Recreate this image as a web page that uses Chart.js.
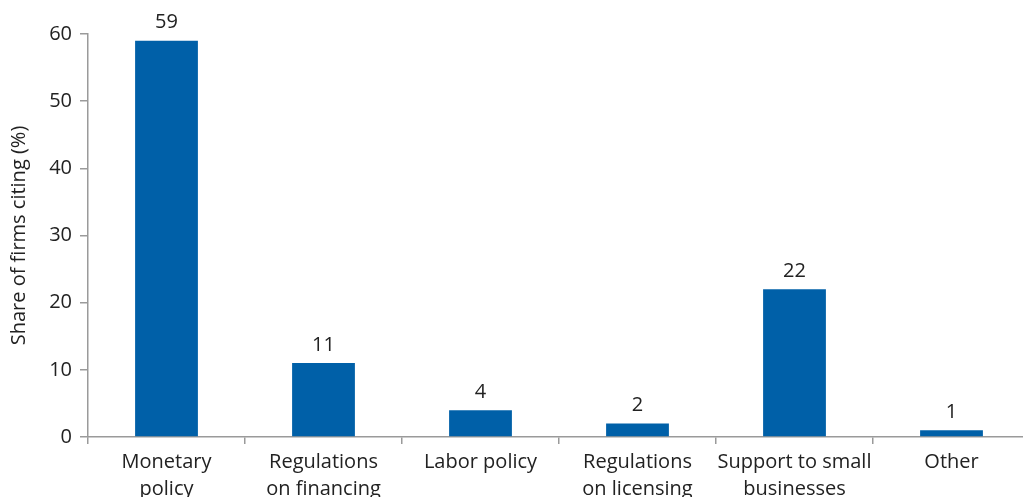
<!DOCTYPE html>
<html lang="en">
<head>
    <meta charset="UTF-8">
    <title>Share of firms citing</title>
    <script src="https://cdn.jsdelivr.net/npm/chart.js"></script>
    <style>
        html, body { margin: 0; padding: 0; overflow: hidden; background: #fff; }
        #wrap { width: 1023px; height: 497px; overflow: hidden; }
    </style>
</head>
<body>
    <div id="wrap">
        <canvas id="myChart" width="1030" height="540"></canvas>
    </div>

    <script>
        const categories = [
            ['Monetary', 'policy'],
            ['Regulations', 'on financing'],
            ['Labor policy'],
            ['Regulations', 'on licensing'],
            ['Support to small', 'businesses'],
            ['Other']
        ];
        const shares = [59, 11, 4, 2, 22, 1];
        const yTicks = [0, 10, 20, 30, 40, 50, 60];

        const barColor = '#0060a8';
        const axisColor = '#9a9a9a';
        const textColor = '#222222';
        const fontFamily = '"Open Sans", "Noto Sans", sans-serif';

        // value labels above the bars
        const valueLabels = {
            id: 'valueLabels',
            afterDatasetsDraw(chart) {
                const ctx = chart.ctx;
                const meta = chart.getDatasetMeta(0);
                ctx.save();
                ctx.font = '20px ' + fontFamily;
                ctx.fillStyle = textColor;
                ctx.textAlign = 'center';
                ctx.textBaseline = 'bottom';
                meta.data.forEach(function (bar, i) {
                    ctx.fillText(String(shares[i]), bar.x, bar.y - 8);
                });
                ctx.restore();
            }
        };

        const ctx = document.getElementById('myChart').getContext('2d');
        new Chart(ctx, {
            type: 'bar',
            data: {
                labels: categories,
                datasets: [{
                    data: shares,
                    backgroundColor: barColor,
                    categoryPercentage: 0.8,
                    barPercentage: 0.5
                }]
            },
            options: {
                responsive: false,
                animation: false,
                layout: { padding: { top: 34, right: 0, left: 0, bottom: 0 } },
                plugins: {
                    legend: { display: false },
                    tooltip: { enabled: false }
                },
                scales: {
                    x: {
                        offset: true,
                        afterFit: function (scale) { scale.height = 103; },
                        border: { display: true, color: axisColor, width: 1.5 },
                        grid: {
                            offset: true,
                            drawOnChartArea: false,
                            drawTicks: true,
                            tickLength: 7,
                            color: axisColor,
                            lineWidth: 1.5
                        },
                        ticks: {
                            color: textColor,
                            padding: 5,
                            maxRotation: 0,
                            autoSkip: false,
                            font: { family: fontFamily, size: 20, lineHeight: 1.35 }
                        }
                    },
                    y: {
                        min: 0,
                        max: 60,
                        afterFit: function (scale) { scale.width = 88; },
                        afterBuildTicks: function (scale) {
                            scale.ticks = yTicks.map(function (v) { return { value: v }; });
                        },
                        border: { display: true, color: axisColor, width: 1.5 },
                        grid: {
                            drawOnChartArea: false,
                            drawTicks: true,
                            tickLength: 8,
                            color: axisColor,
                            lineWidth: 1.5
                        },
                        ticks: {
                            color: textColor,
                            padding: 8,
                            font: { family: fontFamily, size: 20 }
                        },
                        title: {
                            display: true,
                            text: 'Share of firms citing (%)',
                            color: textColor,
                            padding: { top: 7, bottom: 0 },
                            font: { family: fontFamily, size: 20 }
                        }
                    }
                }
            },
            plugins: [valueLabels]
        });
    </script>
</body>
</html>
